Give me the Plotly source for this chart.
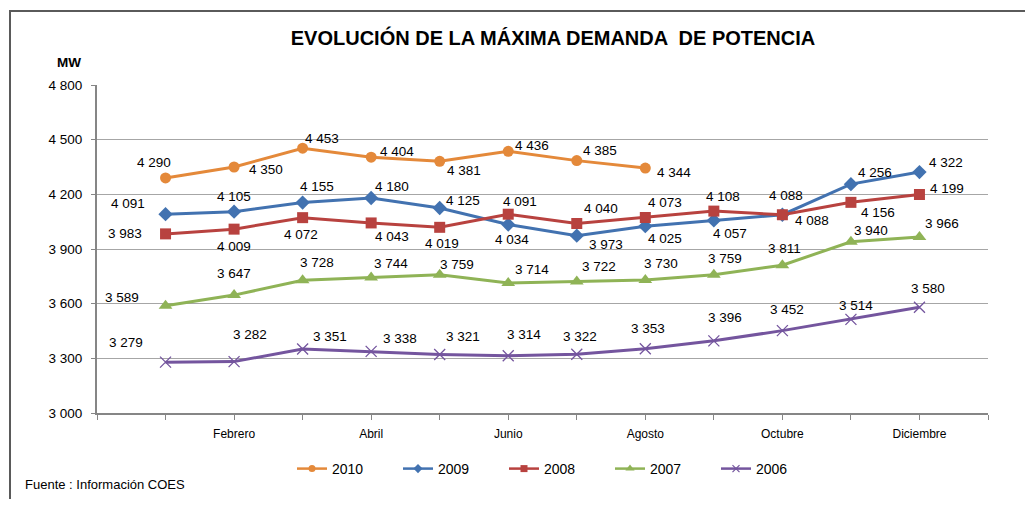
import plotly.graph_objects as go

months = ["Enero", "Febrero", "Marzo", "Abril", "Mayo", "Junio", "Julio",
          "Agosto", "Setiembre", "Octubre", "Noviembre", "Diciembre"]
years = ["2010", "2009", "2008", "2007", "2006"]

v2010 = [4290, 4350, 4453, 4404, 4381, 4436, 4385, 4344]
v2009 = [4091, 4105, 4155, 4180, 4125, 4034, 3973, 4025, 4057, 4088, 4256, 4322]
v2008 = [3983, 4009, 4072, 4043, 4019, 4091, 4040, 4073, 4108, 4088, 4156, 4199]
v2007 = [3589, 3647, 3728, 3744, 3759, 3714, 3722, 3730, 3759, 3811, 3940, 3966]
v2006 = [3279, 3282, 3351, 3338, 3321, 3314, 3322, 3353, 3396, 3452, 3514, 3580]

y_ticks = [3000, 3300, 3600, 3900, 4200, 4500, 4800]

series = [v2010, v2009, v2008, v2007, v2006]

# styles
colors = ["#E4893A", "#4272B0", "#B8423F", "#8FB356", "#74559E"]
symbols = ["circle", "diamond", "square", "triangle-up", "x-thin-open"]
msizes = [11, 11, 11, 12, 11]
leg_sizes = [7, 7, 7, 8, 7]

# label offsets (pixels): dx right, dy down
lab_dx = [
    [-12, 32, 19, 26, 24, 24, 23, 29],
    [-38, 0, 14, 21, 23, 4, 29, 20, 16, 30, 24, 27],
    [-41, 0, -2, 21, 2, 12, 24, 20, 9, 4, 27, 28],
    [-44, 0, 14, 20, 17, 24, 22, 16, 11, 2, 20, 23],
    [-40, 16, 27, 29, 23, 16, 3, 3, 11, 5, 5, 9],
]
lab_dy = [
    [-15, 2, -10, -6, 9, -6, -10, 4],
    [-11, -15, -16, -11, -8, 15, 9, 12, 13, 6, -12, -10],
    [0, 17, 17, 14, 16, -13, -15, -15, -15, -19, 10, -6],
    [-8, -22, -18, -14, -10, -13, -15, -16, -16, -17, -11, -13],
    [-20, -27, -13, -13, -18, -21, -18, -20, -23, -21, -14, -19],
]

FONT = "Liberation Sans, Arial, sans-serif"

# page body has an 8px margin; figure is sized so the plot area lands where wanted
OFF = 8
W, H = 1017, 491
PL, PT, PW, PH = 97 - OFF, 85 - OFF, 891, 328
PR = W - PL - PW
PB = H - PT - PH


def fmt(v):
    return f"{v:,}".replace(",", " ")


def px_x(x):  # page pixel -> paper
    return (x - OFF - PL) / PW


def px_y(y):
    return (PT + PH - (y - OFF)) / PH


fig = go.Figure()
annotations = []
for k, (name, vals) in enumerate(zip(years, series)):
    xs = list(range(1, len(vals) + 1))
    mk = dict(symbol=symbols[k], size=msizes[k], color=colors[k])
    if symbols[k].endswith("open"):
        mk["line"] = dict(width=1.3, color=colors[k])
    fig.add_trace(go.Scatter(
        x=xs, y=vals, name=name, mode="lines+markers",
        line=dict(color=colors[k], width=3),
        marker=mk, showlegend=False,
    ))
    for i, v in enumerate(vals):
        annotations.append(dict(
            x=xs[i], y=v, xref="x", yref="y", text=fmt(v), showarrow=False,
            xshift=lab_dx[k][i], yshift=-lab_dy[k][i],
            font=dict(family=FONT, size=13.5, color="#000000"),
        ))

# legend entries with small symbols
for k, name in enumerate(years):
    lm = dict(symbol=symbols[k], size=leg_sizes[k], color=colors[k])
    if symbols[k].endswith("open"):
        lm["line"] = dict(width=1.2, color=colors[k])
    fig.add_trace(go.Scatter(
        x=[None], y=[None], name=name, mode="lines+markers",
        line=dict(color=colors[k], width=2.5), marker=lm,
    ))

tickvals = list(range(0, len(months) + 2))
ticktext = [""] + [m if (i % 2 == 1) else "" for i, m in enumerate(months)] + [""]

annotations.append(dict(
    text="<b>MW</b>", xref="paper", yref="paper", x=px_x(69), y=px_y(62),
    xanchor="center", yanchor="middle", showarrow=False,
    font=dict(family=FONT, size=13.5, color="#000000"),
))
annotations.append(dict(
    text="Fuente : Información COES", xref="paper", yref="paper",
    x=px_x(23), y=px_y(484), xanchor="left", yanchor="middle", showarrow=False,
    font=dict(family=FONT, size=13, color="#000000"),
))

fig.update_layout(
    width=W, height=H,
    margin=dict(l=PL, r=PR, t=PT, b=PB, autoexpand=False),
    paper_bgcolor="white", plot_bgcolor="white",
    separators=", ",
    font=dict(family=FONT, color="#000000"),
    title=dict(
        text="<b>EVOLUCIÓN DE LA MÁXIMA DEMANDA  DE POTENCIA</b>",
        x=(553 - OFF) / W, y=1 - (38 - OFF) / H, xanchor="center", yanchor="middle",
        font=dict(family=FONT, size=20, color="#000000"),
    ),
    xaxis=dict(
        range=[0, len(months) + 1], tickmode="array",
        tickvals=tickvals, ticktext=ticktext,
        showgrid=False, zeroline=False,
        showline=True, linecolor="#868686", linewidth=2,
        ticks="outside", ticklen=5, tickcolor="#868686", tickwidth=1,
        ticklabelstandoff=4,
        tickfont=dict(family=FONT, size=12, color="#000000"),
    ),
    yaxis=dict(
        range=[3000, 4800], tickmode="array", tickvals=y_ticks,
        tickformat=",d",
        showgrid=True, gridcolor="#A6A6A6", gridwidth=1, zeroline=False,
        showline=True, linecolor="#868686", linewidth=2,
        ticks="outside", ticklen=4, tickcolor="#868686",
        ticklabelstandoff=6,
        tickfont=dict(family=FONT, size=13.5, color="#000000"),
    ),
    legend=dict(
        orientation="h", x=px_x(292), y=px_y(469), xanchor="left", yanchor="middle",
        font=dict(family=FONT, size=14, color="#000000"),
        entrywidth=61, entrywidthmode="pixels", bgcolor="rgba(0,0,0,0)",
    ),
    annotations=annotations,
    shapes=[dict(
        type="rect", xref="paper", yref="paper",
        x0=px_x(10), x1=1.3, y0=-0.6, y1=px_y(11),
        line=dict(color="#5A5A5A", width=2), fillcolor="rgba(0,0,0,0)",
        layer="below",
    )],
)

fig.write_html("out.html")
